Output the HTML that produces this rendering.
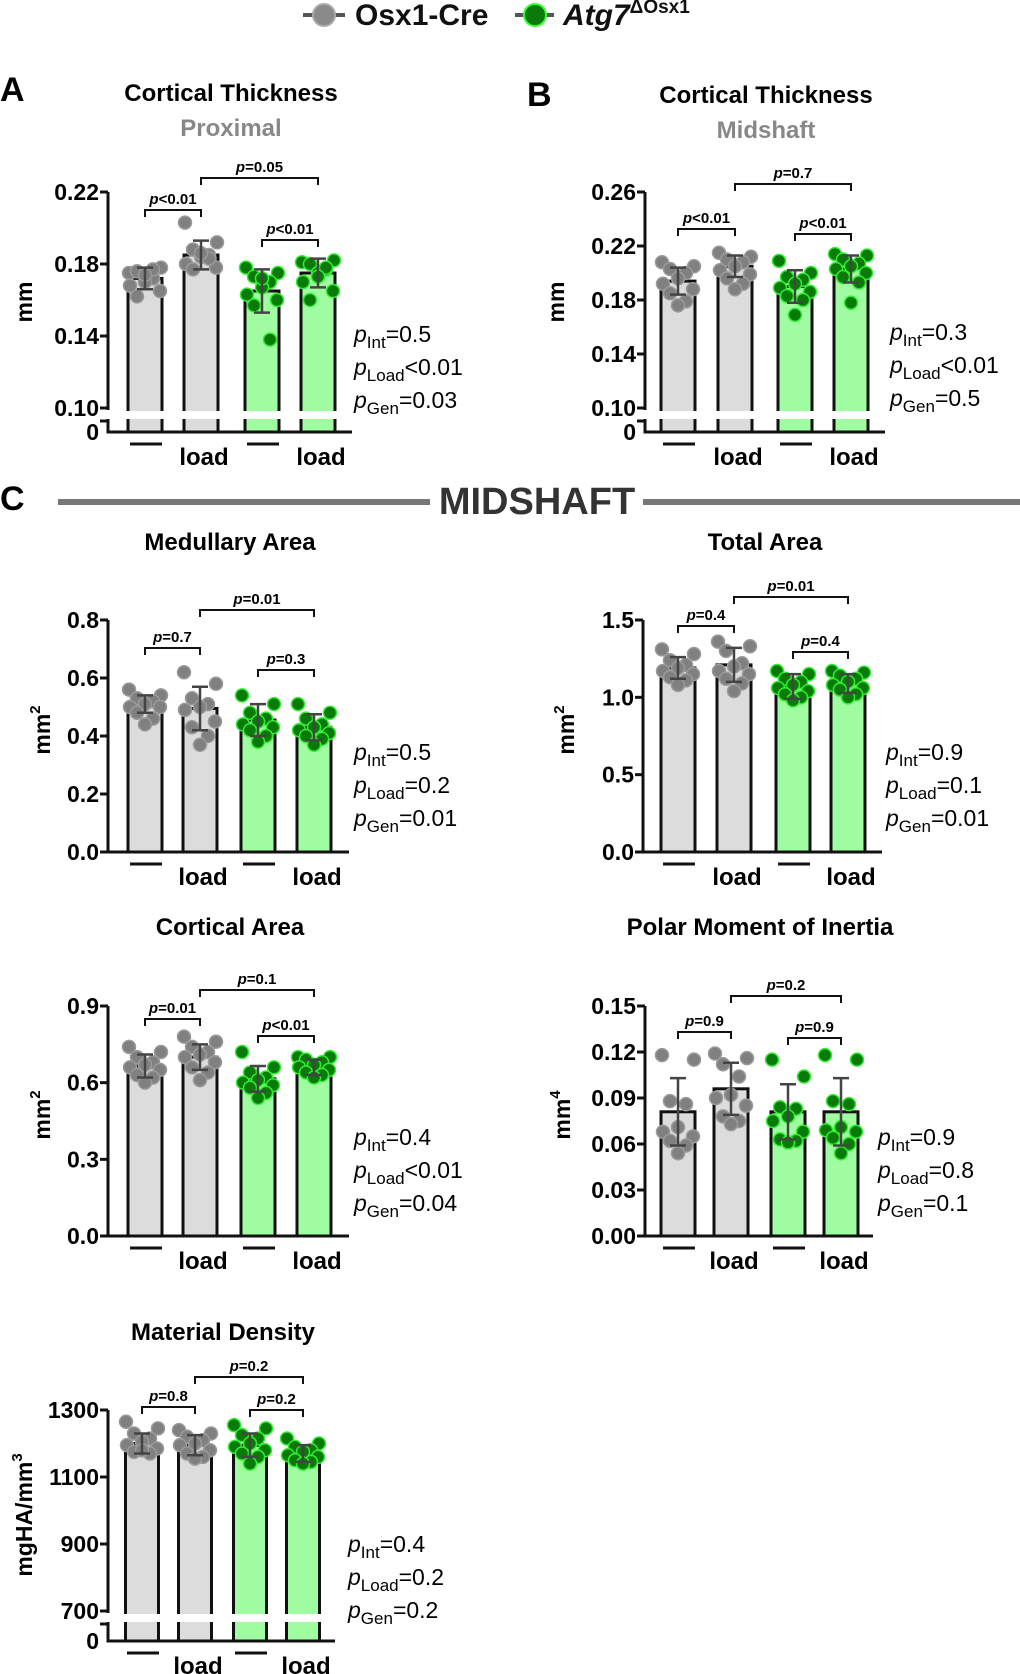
<!DOCTYPE html>
<html><head><meta charset="utf-8">
<style>
html,body{margin:0;padding:0;background:#fff;}
svg{display:block;font-family:"Liberation Sans","DejaVu Sans",sans-serif;}
</style></head>
<body>
<svg id="fig" width="1020" height="1674" viewBox="0 0 1020 1674" xmlns="http://www.w3.org/2000/svg">
  <g>
    <g>
      <line x1="303" y1="15" x2="345" y2="15" stroke="#555" stroke-width="4"/>
      <circle cx="324" cy="15" r="11" fill="#8a8a8a" stroke="#aaa" stroke-width="2"/>
      <text x="355" y="25" font-size="30" font-weight="bold" fill="#111">Osx1-Cre</text>
    </g>
    <g>
      <line x1="515" y1="15" x2="554" y2="15" stroke="#555" stroke-width="4"/>
      <circle cx="535" cy="15" r="11" fill="#0a7a0a" stroke="#3f3" stroke-width="2"/>
      <text x="563" y="25" font-size="30" font-weight="bold" font-style="italic" fill="#111">Atg7<tspan font-size="19" font-style="normal" dy="-12">ΔOsx1</tspan></text>
    </g>
  </g>
  <text x="0" y="101" font-size="34" font-weight="bold">A</text>
  <text x="527" y="106" font-size="34" font-weight="bold">B</text>
  <text x="0" y="510" font-size="34" font-weight="bold">C</text>
  <g>
    <line x1="58" y1="502" x2="430" y2="502" stroke="#777" stroke-width="6"/>
    <text x="537" y="514" font-size="38" font-weight="bold" fill="#333" text-anchor="middle">MIDSHAFT</text>
    <line x1="643" y1="502" x2="1020" y2="502" stroke="#777" stroke-width="6"/>
  </g>
  <g id="charts"></g>
</svg>
<script>
// ---- Data ----
const groups = ["Osx1-Cre", "Osx1-Cre load", "Atg7 \u0394Osx1", "Atg7 \u0394Osx1 load"];
const xLabels = ["\u2014", "load", "\u2014", "load"];

const ctpMeans = [0.172, 0.185, 0.165, 0.175];
const ctpSD = [0.006, 0.008, 0.012, 0.008];
const ctpPts = [
  [0.175,0.178,0.176,0.172,0.170,0.168,0.165,0.162,0.177,0.174],
  [0.203,0.192,0.188,0.185,0.184,0.180,0.178,0.177,0.183,0.186],
  [0.178,0.175,0.173,0.170,0.167,0.163,0.160,0.157,0.138,0.172],
  [0.181,0.182,0.180,0.177,0.175,0.170,0.165,0.160,0.178,0.173]];
const ctpTicks = [0.10, 0.14, 0.18, 0.22];
const ctpTickLabels = ["0.10", "0.14", "0.18", "0.22"];

const ctmMeans = [0.194, 0.205, 0.190, 0.203];
const ctmSD = [0.010, 0.008, 0.012, 0.010];
const ctmPts = [
  [0.208,0.205,0.203,0.200,0.196,0.192,0.188,0.185,0.179,0.176],
  [0.215,0.212,0.210,0.208,0.205,0.202,0.199,0.196,0.192,0.188],
  [0.209,0.200,0.197,0.195,0.192,0.189,0.186,0.183,0.180,0.169],
  [0.214,0.213,0.210,0.207,0.205,0.203,0.200,0.197,0.193,0.178]];
const ctmTicks = [0.10, 0.14, 0.18, 0.22, 0.26];
const ctmTickLabels = ["0.10", "0.14", "0.18", "0.22", "0.26"];

const medMeans = [0.51, 0.495, 0.455, 0.43];
const medSD = [0.03, 0.075, 0.055, 0.045];
const medPts = [
  [0.56,0.54,0.53,0.52,0.51,0.50,0.50,0.48,0.46,0.44],
  [0.62,0.58,0.53,0.51,0.50,0.49,0.45,0.43,0.40,0.37],
  [0.54,0.51,0.48,0.46,0.45,0.44,0.43,0.42,0.40,0.38],
  [0.51,0.48,0.46,0.44,0.43,0.42,0.41,0.40,0.39,0.37]];
const medTicks = [0, 0.2, 0.4, 0.6, 0.8];
const medTickLabels = ["0.0", "0.2", "0.4", "0.6", "0.8"];

const totMeans = [1.19, 1.21, 1.07, 1.09];
const totSD = [0.07, 0.11, 0.08, 0.06];
const totPts = [
  [1.31,1.28,1.24,1.21,1.19,1.17,1.15,1.13,1.11,1.08],
  [1.36,1.33,1.30,1.22,1.20,1.17,1.15,1.12,1.09,1.04],
  [1.17,1.15,1.12,1.10,1.08,1.06,1.04,1.02,1.00,0.98],
  [1.17,1.16,1.14,1.12,1.10,1.08,1.06,1.05,1.02,1.00]];
const totTicks = [0, 0.5, 1.0, 1.5];
const totTickLabels = ["0.0", "0.5", "1.0", "1.5"];

const corMeans = [0.665, 0.70, 0.615, 0.66];
const corSD = [0.045, 0.05, 0.05, 0.03];
const corPts = [
  [0.74,0.72,0.70,0.68,0.67,0.66,0.65,0.63,0.62,0.60],
  [0.78,0.76,0.74,0.72,0.71,0.70,0.68,0.66,0.64,0.61],
  [0.72,0.66,0.64,0.62,0.61,0.60,0.59,0.58,0.56,0.54],
  [0.70,0.70,0.69,0.68,0.67,0.66,0.65,0.64,0.63,0.62]];
const corTicks = [0, 0.3, 0.6, 0.9];
const corTickLabels = ["0.0", "0.3", "0.6", "0.9"];

const polMeans = [0.081, 0.096, 0.081, 0.081];
const polSD = [0.022, 0.017, 0.018, 0.022];
const polPts = [
  [0.118,0.115,0.088,0.086,0.071,0.068,0.065,0.062,0.059,0.054],
  [0.119,0.116,0.112,0.104,0.092,0.090,0.085,0.078,0.075,0.073],
  [0.115,0.104,0.084,0.083,0.078,0.075,0.068,0.063,0.062,0.061],
  [0.118,0.115,0.088,0.086,0.071,0.069,0.068,0.064,0.060,0.054]];
const polTicks = [0, 0.03, 0.06, 0.09, 0.12, 0.15];
const polTickLabels = ["0.00", "0.03", "0.06", "0.09", "0.12", "0.15"];

const denMeans = [1200, 1195, 1195, 1170];
const denSD = [30, 30, 35, 25];
const denPts = [
  [1265,1245,1230,1215,1205,1195,1185,1175,1170,1180],
  [1240,1230,1220,1210,1200,1195,1180,1170,1160,1155],
  [1255,1245,1225,1215,1200,1190,1180,1170,1160,1140],
  [1215,1200,1190,1180,1175,1165,1160,1150,1145,1140]];
const denTicks = [700, 900, 1100, 1300];
const denTickLabels = ["700", "900", "1100", "1300"];

const ctpStats = ["p<0.01", "p=0.05", "p<0.01"];
const ctmStats = ["p<0.01", "p=0.7", "p<0.01"];
const medStats = ["p=0.7", "p=0.01", "p=0.3"];
const totStats = ["p=0.4", "p=0.01", "p=0.4"];
const corStats = ["p=0.01", "p=0.1", "p<0.01"];
const polStats = ["p=0.9", "p=0.2", "p=0.9"];
const denStats = ["p=0.8", "p=0.2", "p=0.2"];

const ctpAnova = ["=0.5", "<0.01", "=0.03"];
const ctmAnova = ["=0.3", "<0.01", "=0.5"];
const medAnova = ["=0.5", "=0.2", "=0.01"];
const totAnova = ["=0.9", "=0.1", "=0.01"];
const corAnova = ["=0.4", "<0.01", "=0.04"];
const polAnova = ["=0.9", "=0.8", "=0.1"];
const denAnova = ["=0.4", "=0.2", "=0.2"];

// ---- Rendering ----
const NS = "http://www.w3.org/2000/svg";
const root = document.getElementById("charts");
const jit = [-16, 16, -8, 8, 0, -15, 15, -8, 8, 0];
function mk(tag, attrs, parent) {
  const e = document.createElementNS(NS, tag);
  for (const k in attrs) e.setAttribute(k, attrs[k]);
  parent.appendChild(e);
  return e;
}
function chart(c) {
  const g = mk("g", {}, root);
  
  
  const y = v => c.yTop + (c.vMax - v) / (c.vMax - c.vMin) * (c.yBot - c.yTop);
  const t = mk("text", {x: c.titleX, y: c.titleY, "font-size": 24, "font-weight": "bold", "text-anchor": "middle"}, g);
  t.textContent = c.title;
  
  
  if (c.sub) {
    const s = mk("text", {x: c.titleX, y: c.titleY + 35, "font-size": 24, "font-weight": "bold", "text-anchor": "middle", fill: "#888"}, g);
    s.textContent = c.sub;
    
    
  }
  const base = c.zeroY;
  c.means.forEach((m, i) => {
    const cx = c.barX[i];
    const r = mk("rect", {x: cx - c.bw / 2, y: y(m), width: c.bw, height: base - y(m), fill: i < 2 ? "#dcdcdc" : "#a0fca0", stroke: "#111", "stroke-width": 3}, g);
    
    
  });
  c.pts.forEach((arr, i) => {
    arr.forEach((v, k) => {
      const p = mk("circle", {cx: c.barX[i] + jit[k], cy: y(v), r: 6.5, fill: i < 2 ? "#808080" : "#087a08", stroke: i < 2 ? "#9a9a9a" : "#33ee33", "stroke-width": 1.5}, g);
      
      
    });
  });
  c.means.forEach((m, i) => {
    const cx = c.barX[i];
    const e = mk("path", {d: `M${cx},${y(m + c.sd[i])}V${y(m - c.sd[i])}M${cx - 8},${y(m + c.sd[i])}h16M${cx - 8},${y(m - c.sd[i])}h16`, stroke: "#444", "stroke-width": 2.5, fill: "none"}, g);
    
    
  });
  if (c.brk) {
    mk("rect", {x: c.axisX - 10, y: c.yBot + 3, width: c.axisEnd - c.axisX + 10, height: 8, fill: "#fff"}, g);
  }
  const ax = mk("path", {d: c.brk ? `M${c.axisX},${c.yTop}V${c.yBot + 2}M${c.axisX},${c.yBot + 11}V${base}H${c.axisEnd}M${c.axisX - 8},${c.yBot + 13}h8`
                               : `M${c.axisX},${c.yTop}V${base}H${c.axisEnd}`, stroke: "#111", "stroke-width": 3, fill: "none"}, g);
  
  
  c.ticks.forEach((v, i) => {
    mk("line", {x1: c.axisX - 8, x2: c.axisX, y1: y(v), y2: y(v), stroke: "#111", "stroke-width": 3}, g);
    const tl = mk("text", {x: c.axisX - 9, y: y(v) + 8, "font-size": 23, "font-weight": "bold", "text-anchor": "end"}, g);
    tl.textContent = c.tickLabels[i];
    
    
  });
  if (c.brk) {
    const z = mk("text", {x: c.axisX - 9, y: base + 8, "font-size": 23, "font-weight": "bold", "text-anchor": "end"}, g);
    z.textContent = "0";
    
    
  }
  const yt = mk("text", {x: 0, y: 0, "font-size": 23, "font-weight": "bold", "text-anchor": "middle", transform: `translate(${c.yTitleX},${c.yTitleY}) rotate(-90)`}, g);
  yt.innerHTML = c.yTitle;
  
  
  xLabels.forEach((l, i) => {
    if (l === "load") {
      const xl = mk("text", {x: c.barX[i] + 3, y: base + 33, "font-size": 24, "font-weight": "bold", "text-anchor": "middle"}, g);
      xl.textContent = l;
      
      
    } else {
      const xl = mk("line", {x1: c.barX[i] - 15, x2: c.barX[i] + 17, y1: base + 12, y2: base + 12, stroke: "#111", "stroke-width": 3}, g);
      
      
    }
  });
  const pairs = [[0, 1], [1, 3], [2, 3]];
  pairs.forEach((pr, i) => {
    const x1 = c.barX[pr[0]], x2 = c.barX[pr[1]], by = c.brY[i];
    const b = mk("path", {d: `M${x1},${by + 7}V${by}H${x2}V${by + 7}`, stroke: "#111", "stroke-width": 2, fill: "none"}, g);
    
    
    const tx = mk("text", {x: (x1 + x2) / 2, y: by - 6, "font-size": 15, "font-weight": "bold", "text-anchor": "middle"}, g);
    const s = c.stats[i];
    tx.innerHTML = `<tspan font-style="italic">p</tspan>${s.slice(1).replace("<", "&lt;")}`;
    
    
  });
  const subs = ["Int", "Load", "Gen"];
  c.anova.forEach((a, i) => {
    const at = mk("text", {x: c.pX, y: c.pY + i * 33, "font-size": 23}, g);
    at.innerHTML = `<tspan font-style="italic">p</tspan><tspan font-size="17" dy="6">${subs[i]}</tspan><tspan dy="-6">${a.replace("<", "&lt;")}</tspan>`;
    
    
  });
}

chart({name: "chart-cortical-thickness-proximal", title: "Cortical Thickness", sub: "Proximal", titleX: 231, titleY: 101,
  means: ctpMeans, sd: ctpSD, pts: ctpPts, ticks: ctpTicks, tickLabels: ctpTickLabels, vMin: 0.10, vMax: 0.22,
  yTop: 192, yBot: 408, zeroY: 432, brk: true, axisX: 108, axisEnd: 352, barX: [145, 201, 262, 318], bw: 34,
  yTitle: "mm", yTitleX: 32, yTitleY: 302, brY: [210, 178, 240], stats: ctpStats, anova: ctpAnova, pX: 354, pY: 342});

chart({name: "chart-cortical-thickness-midshaft", title: "Cortical Thickness", sub: "Midshaft", titleX: 766, titleY: 103,
  means: ctmMeans, sd: ctmSD, pts: ctmPts, ticks: ctmTicks, tickLabels: ctmTickLabels, vMin: 0.10, vMax: 0.26,
  yTop: 192, yBot: 408, zeroY: 432, brk: true, axisX: 645, axisEnd: 885, barX: [678, 735, 795, 851], bw: 34,
  yTitle: "mm", yTitleX: 564, yTitleY: 302, brY: [229, 184, 234], stats: ctmStats, anova: ctmAnova, pX: 890, pY: 340});

chart({name: "chart-medullary-area", title: "Medullary Area", titleX: 230, titleY: 550,
  means: medMeans, sd: medSD, pts: medPts, ticks: medTicks, tickLabels: medTickLabels, vMin: 0, vMax: 0.8,
  yTop: 620, yBot: 852, zeroY: 852, brk: false, axisX: 108, axisEnd: 349, barX: [145, 200, 258, 314], bw: 34,
  yTitle: 'mm<tspan font-size="15" dy="-10">2</tspan>', yTitleX: 50, yTitleY: 730, brY: [648, 610, 670], stats: medStats, anova: medAnova, pX: 354, pY: 760});

chart({name: "chart-total-area", title: "Total Area", titleX: 765, titleY: 550,
  means: totMeans, sd: totSD, pts: totPts, ticks: totTicks, tickLabels: totTickLabels, vMin: 0, vMax: 1.5,
  yTop: 620, yBot: 852, zeroY: 852, brk: false, axisX: 643, axisEnd: 882, barX: [678, 734, 793, 848], bw: 34,
  yTitle: 'mm<tspan font-size="15" dy="-10">2</tspan>', yTitleX: 574, yTitleY: 730, brY: [626, 597, 652], stats: totStats, anova: totAnova, pX: 886, pY: 760});

chart({name: "chart-cortical-area", title: "Cortical Area", titleX: 230, titleY: 935,
  means: corMeans, sd: corSD, pts: corPts, ticks: corTicks, tickLabels: corTickLabels, vMin: 0, vMax: 0.9,
  yTop: 1006, yBot: 1236, zeroY: 1236, brk: false, axisX: 108, axisEnd: 349, barX: [145, 200, 258, 314], bw: 34,
  yTitle: 'mm<tspan font-size="15" dy="-10">2</tspan>', yTitleX: 50, yTitleY: 1115, brY: [1019, 990, 1036], stats: corStats, anova: corAnova, pX: 354, pY: 1145});

chart({name: "chart-polar-moment-of-inertia", title: "Polar Moment of Inertia", titleX: 760, titleY: 935,
  means: polMeans, sd: polSD, pts: polPts, ticks: polTicks, tickLabels: polTickLabels, vMin: 0, vMax: 0.15,
  yTop: 1006, yBot: 1236, zeroY: 1236, brk: false, axisX: 645, axisEnd: 873, barX: [678, 731, 788, 841], bw: 34,
  yTitle: 'mm<tspan font-size="15" dy="-10">4</tspan>', yTitleX: 570, yTitleY: 1115, brY: [1032, 996, 1038], stats: polStats, anova: polAnova, pX: 878, pY: 1145});

chart({name: "chart-material-density", title: "Material Density", titleX: 223, titleY: 1340,
  means: denMeans, sd: denSD, pts: denPts, ticks: denTicks, tickLabels: denTickLabels, vMin: 700, vMax: 1300,
  yTop: 1410, yBot: 1611, zeroY: 1641, brk: true, axisX: 108, axisEnd: 335, barX: [142, 195, 250, 303], bw: 33,
  yTitle: 'mgHA/mm<tspan font-size="15" dy="-10">3</tspan>', yTitleX: 32, yTitleY: 1515, brY: [1407, 1377, 1410], stats: denStats, anova: denAnova, pX: 348, pY: 1552});
</script>
</body></html>
